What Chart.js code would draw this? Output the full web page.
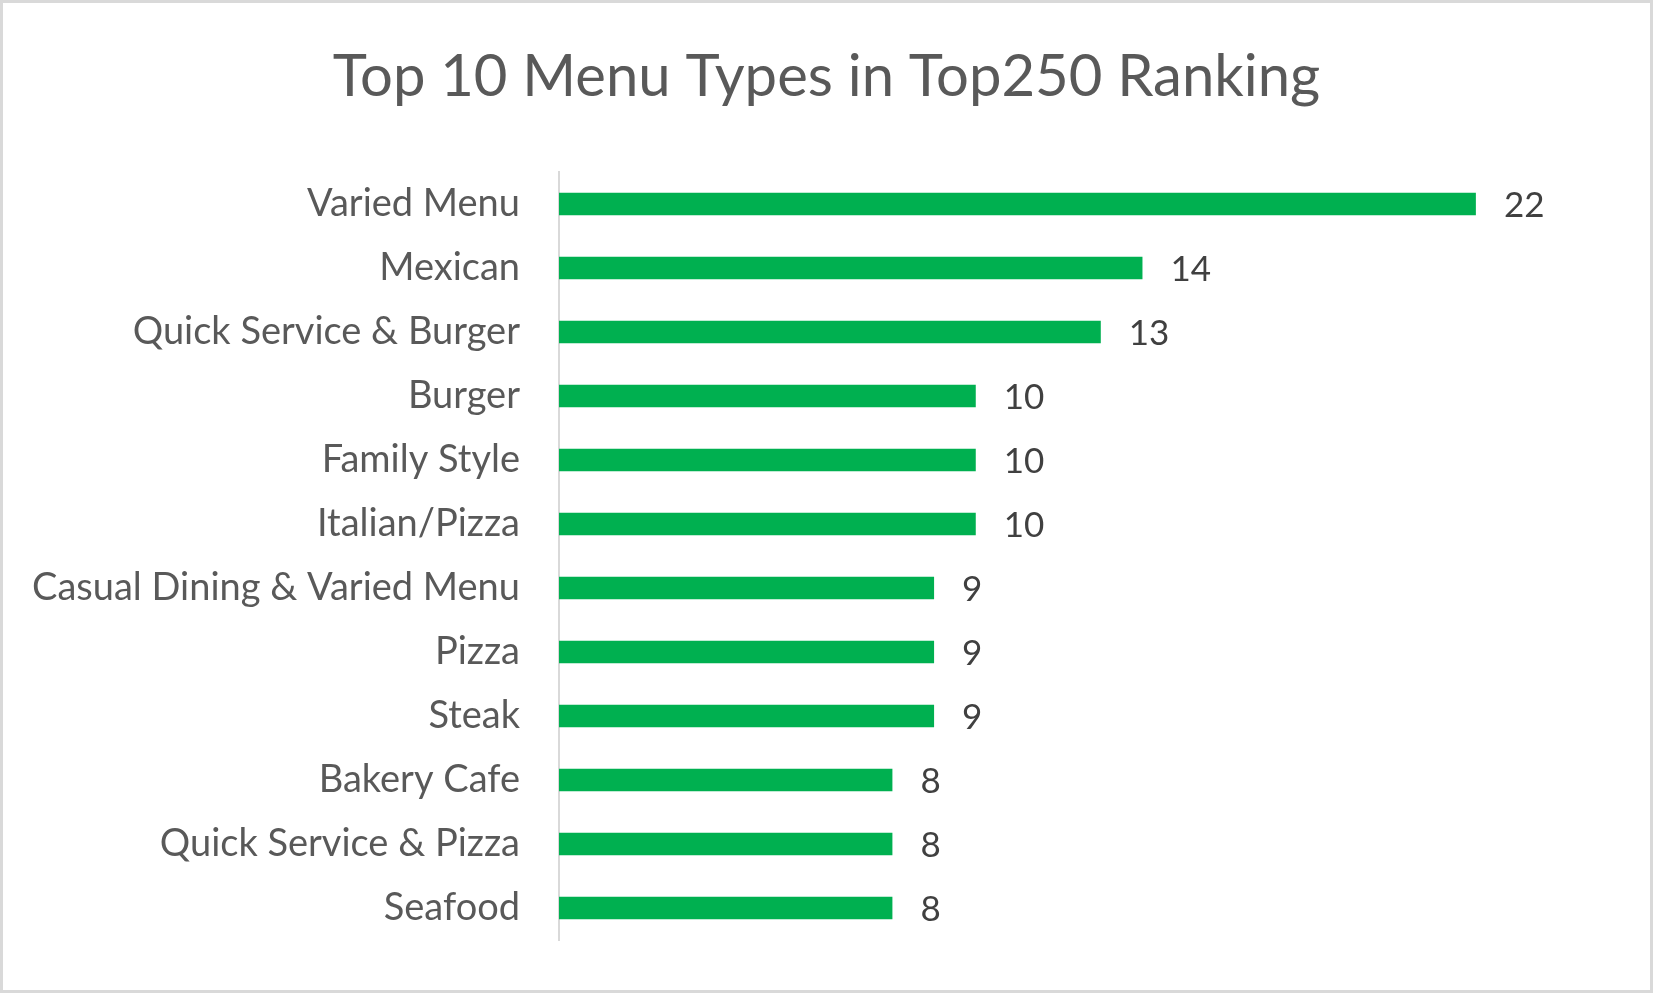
<!DOCTYPE html>
<html>
<head>
<meta charset="utf-8">
<script src="https://cdn.jsdelivr.net/npm/chart.js@4.4.1/dist/chart.umd.min.js"></script>
<style>
html,body{margin:0;padding:0;background:#fff;}
#wrap{position:relative;width:1653px;height:993px;}
#frame{position:absolute;left:0;top:0;width:1653px;height:993px;box-sizing:border-box;border:3px solid #d9d9d9;pointer-events:none;}
canvas{display:block;}
</style>
</head>
<body>
<div id="wrap">
<canvas id="c" width="1653" height="993"></canvas>
<div id="frame"></div>
</div>
<script>
const chartTitle = "Top 10 Menu Types in Top250 Ranking";
const categories = ["Varied Menu","Mexican","Quick Service & Burger","Burger","Family Style","Italian/Pizza","Casual Dining & Varied Menu","Pizza","Steak","Bakery Cafe","Quick Service & Pizza","Seafood"];
const counts = [22,14,13,10,10,10,9,9,9,8,8,8];
const axisMin = 0;
const axisMax = 26.25;

const FONT = "Lato";

const valueLabels = {
  id: 'valueLabels',
  afterDatasetsDraw(chart) {
    const ctx = chart.ctx;
    const meta = chart.getDatasetMeta(0);
    ctx.save();
    ctx.font = "35px " + FONT;
    ctx.fillStyle = "#404040";
    ctx.textAlign = "left";
    ctx.textBaseline = "middle";
    meta.data.forEach((bar, i) => {
      ctx.fillText(String(counts[i]), bar.x + 28, bar.y + 2);
    });
    ctx.restore();
  }
};

new Chart(document.getElementById('c'), {
  type: 'bar',
  data: {
    labels: categories,
    datasets: [{
      data: counts,
      backgroundColor: '#00B050',
      borderWidth: 0,
      categoryPercentage: 1.0,
      barPercentage: 0.352
    }]
  },
  options: {
    indexAxis: 'y',
    responsive: false,
    animation: false,
    devicePixelRatio: 1,
    layout: { padding: { top: 0, left: 0, right: 0, bottom: 53 } },
    plugins: {
      legend: { display: false },
      tooltip: { enabled: false },
      title: {
        display: true,
        text: chartTitle,
        color: '#595959',
        font: { family: FONT, size: 58, weight: 'normal', lineHeight: 1.2 },
        padding: { top: 42, bottom: 60.4 }
      }
    },
    scales: {
      x: {
        display: false,
        min: axisMin,
        max: axisMax
      },
      y: {
        grid: { display: false, drawTicks: false },
        border: { display: true, color: '#d9d9d9', width: 2 },
        ticks: {
          color: '#595959',
          font: { family: FONT, size: 38 },
          padding: 39
        },
        afterFit(scale) {
          scale.width = 559;
          scale.paddingTop = 0;
          scale.paddingBottom = 0;
        }
      }
    }
  },
  plugins: [valueLabels]
});
</script>
</body>
</html>
